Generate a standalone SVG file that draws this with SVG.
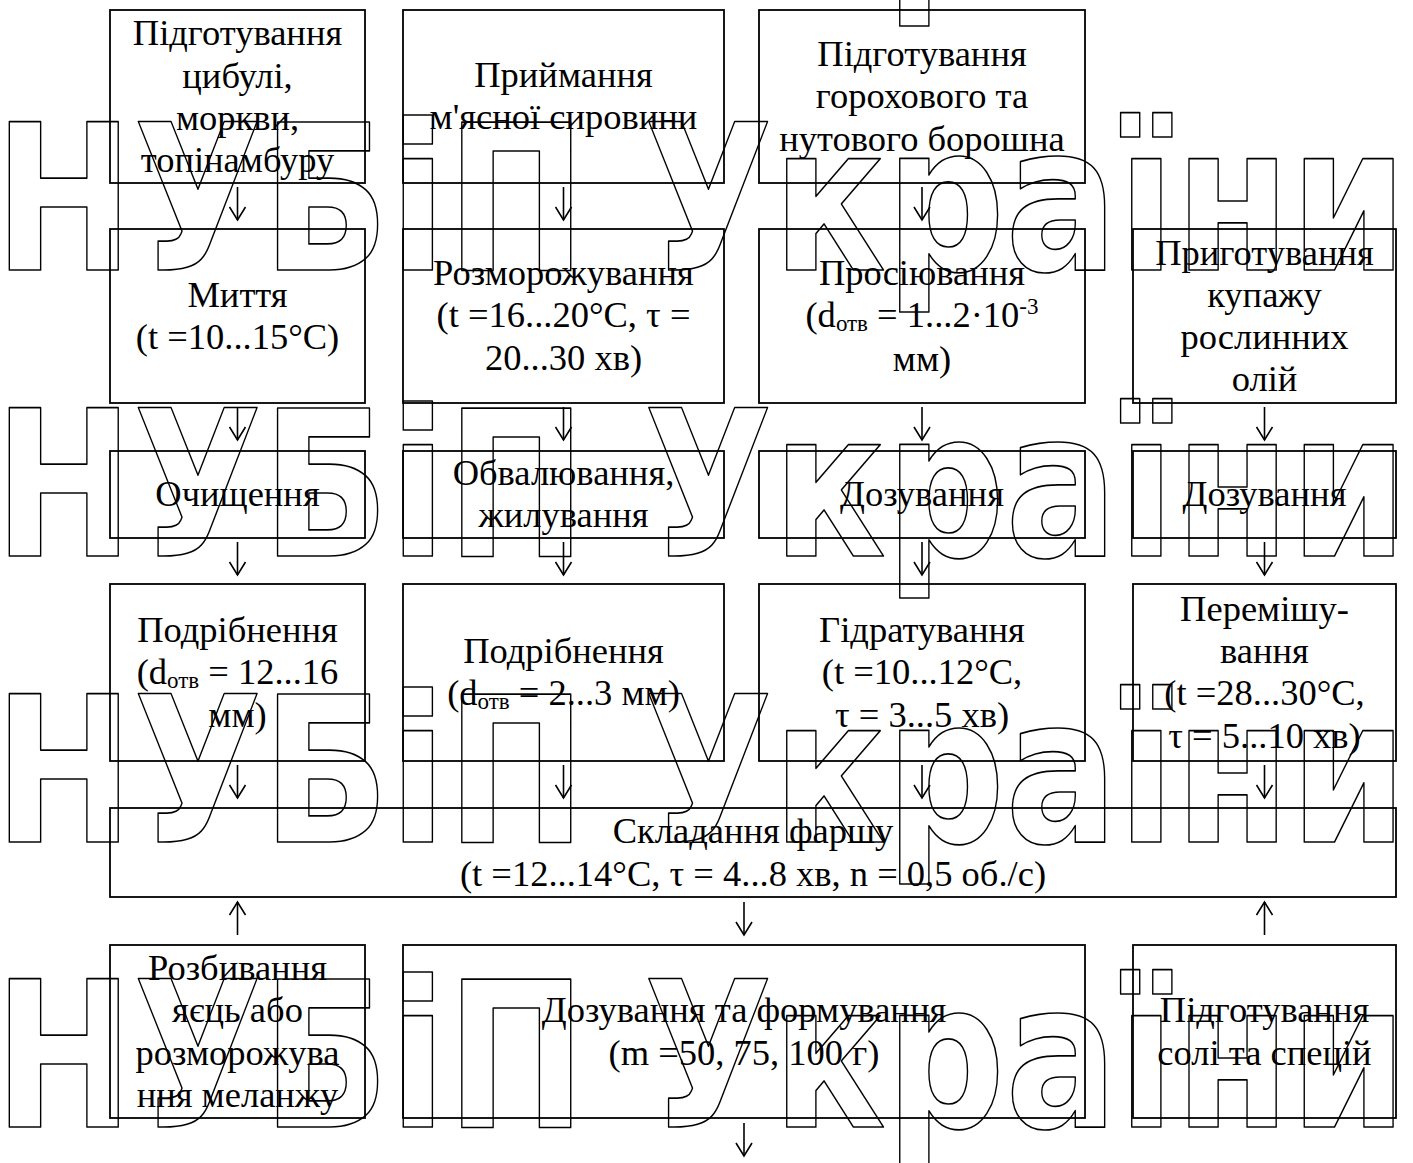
<svg xmlns="http://www.w3.org/2000/svg" width="1413" height="1163" viewBox="0 0 1413 1163">
<style>
.box{fill:none;stroke:#000;stroke-width:1.8}
.t{font-family:"Liberation Serif","Times New Roman",serif;font-size:36.5px;text-anchor:middle;fill:#000}
.s{font-size:23px}
.wm{font-family:"DejaVu Sans",sans-serif;font-weight:bold;font-size:203px;fill:none;stroke:#000;stroke-width:1.7;stroke-linejoin:round}
.arr{fill:none;stroke:#000;stroke-width:1.6}
</style>
<defs>
<marker id="ah" viewBox="-1 -9 16 18" markerWidth="16" markerHeight="18" refX="13" refY="0" markerUnits="userSpaceOnUse" orient="auto">
<path d="M0,-8 L13,0 L0,8" fill="none" stroke="#000" stroke-width="1.6"/>
</marker>
</defs>
<rect width="1413" height="1163" fill="#fff"/>
<g id="watermark">
<text class="wm" x="-6" y="-16" textLength="1413" lengthAdjust="spacingAndGlyphs">НУБіП України</text>
<text class="wm" x="-6" y="270" textLength="1413" lengthAdjust="spacingAndGlyphs">НУБіП України</text>
<text class="wm" x="-6" y="556" textLength="1413" lengthAdjust="spacingAndGlyphs">НУБіП України</text>
<text class="wm" x="-6" y="842" textLength="1413" lengthAdjust="spacingAndGlyphs">НУБіП України</text>
<text class="wm" x="-6" y="1127" textLength="1413" lengthAdjust="spacingAndGlyphs">НУБіП України</text>
</g>
<g id="connectors">
<path class="arr" marker-end="url(#ah)" d="M237.5,187 V220"/>
<path class="arr" marker-end="url(#ah)" d="M563.5,187 V220"/>
<path class="arr" marker-end="url(#ah)" d="M922,187 V220"/>
<path class="arr" marker-end="url(#ah)" d="M237.5,407 V440"/>
<path class="arr" marker-end="url(#ah)" d="M563.5,407 V440"/>
<path class="arr" marker-end="url(#ah)" d="M922,407 V440"/>
<path class="arr" marker-end="url(#ah)" d="M1264.5,407 V440"/>
<path class="arr" marker-end="url(#ah)" d="M237.5,542 V575"/>
<path class="arr" marker-end="url(#ah)" d="M563.5,542 V575"/>
<path class="arr" marker-end="url(#ah)" d="M922,542 V575"/>
<path class="arr" marker-end="url(#ah)" d="M1264.5,542 V575"/>
<path class="arr" marker-end="url(#ah)" d="M237.5,765 V798"/>
<path class="arr" marker-end="url(#ah)" d="M563.5,765 V798"/>
<path class="arr" marker-end="url(#ah)" d="M922,765 V798"/>
<path class="arr" marker-end="url(#ah)" d="M1264.5,765 V798"/>
<path class="arr" marker-end="url(#ah)" d="M237.5,935 V902"/>
<path class="arr" marker-end="url(#ah)" d="M744,902 V935"/>
<path class="arr" marker-end="url(#ah)" d="M1264.5,935 V902"/>
<path class="arr" marker-end="url(#ah)" d="M744,1123 V1156"/>
</g>
<g id="a1"><rect class="box" x="110" y="10" width="255" height="173"/>
<text class="t" x="237.5" y="45">Підготування</text><text class="t" x="237.5" y="87.5">цибулі,</text><text class="t" x="237.5" y="130">моркви,</text><text class="t" x="237.5" y="172">топінамбуру</text></g>
<g id="b1"><rect class="box" x="403" y="10" width="321" height="173"/>
<text class="t" x="563.5" y="87">Приймання</text><text class="t" x="563.5" y="129">м'ясної сировини</text></g>
<g id="c1"><rect class="box" x="759" y="10" width="326" height="173"/>
<text class="t" x="922" y="66">Підготування</text><text class="t" x="922" y="108">горохового та</text><text class="t" x="922" y="151">нутового борошна</text></g>
<g id="a2"><rect class="box" x="110" y="229" width="255" height="174"/>
<text class="t" x="237.5" y="307">Миття</text><text class="t" x="237.5" y="349">(t =10...15°C)</text></g>
<g id="b2"><rect class="box" x="403" y="229" width="321" height="174"/>
<text class="t" x="563.5" y="285">Розморожування</text><text class="t" x="563.5" y="327">(t =16...20°C, τ =</text><text class="t" x="563.5" y="370">20...30 хв)</text></g>
<g id="c2"><rect class="box" x="759" y="229" width="326" height="174"/>
<text class="t" x="922" y="285">Просіювання</text>
<text class="t" x="922" y="327">(d<tspan class="s" dy="4">отв</tspan><tspan dy="-4"> = 1...2·10</tspan><tspan class="s" dy="-13">-3</tspan></text>
<text class="t" x="922" y="371">мм)</text></g>
<g id="d2"><rect class="box" x="1133" y="229" width="263" height="174"/>
<text class="t" x="1264.5" y="265">Приготування</text><text class="t" x="1264.5" y="307">купажу</text><text class="t" x="1264.5" y="349">рослинних</text><text class="t" x="1264.5" y="391">олій</text></g>
<g id="a3"><rect class="box" x="110" y="451" width="255" height="87"/>
<text class="t" x="237.5" y="506">Очищення</text></g>
<g id="b3"><rect class="box" x="403" y="451" width="321" height="87"/>
<text class="t" x="563.5" y="485">Обвалювання,</text><text class="t" x="563.5" y="527">жилування</text></g>
<g id="c3"><rect class="box" x="759" y="451" width="326" height="87"/>
<text class="t" x="922" y="506">Дозування</text></g>
<g id="d3"><rect class="box" x="1133" y="451" width="263" height="87"/>
<text class="t" x="1264.5" y="506">Дозування</text></g>
<g id="a4"><rect class="box" x="110" y="584" width="255" height="177"/>
<text class="t" x="237.5" y="642">Подрібнення</text>
<text class="t" x="237.5" y="684">(d<tspan class="s" dy="4">отв</tspan><tspan dy="-4"> = 12...16</tspan></text>
<text class="t" x="237.5" y="727">мм)</text></g>
<g id="b4"><rect class="box" x="403" y="584" width="321" height="177"/>
<text class="t" x="563.5" y="663">Подрібнення</text>
<text class="t" x="563.5" y="705">(d<tspan class="s" dy="4">отв</tspan><tspan dy="-4"> = 2...3 мм)</tspan></text></g>
<g id="c4"><rect class="box" x="759" y="584" width="326" height="177"/>
<text class="t" x="922" y="642">Гідратування</text><text class="t" x="922" y="684">(t =10...12°C,</text><text class="t" x="922" y="727">τ = 3...5 хв)</text></g>
<g id="d4"><rect class="box" x="1133" y="584" width="263" height="177"/>
<text class="t" x="1264.5" y="621">Перемішу-</text><text class="t" x="1264.5" y="663">вання</text><text class="t" x="1264.5" y="705">(t =28...30°C,</text><text class="t" x="1264.5" y="748">τ = 5...10 хв)</text></g>
<g id="r5"><rect class="box" x="110" y="808" width="1286" height="89"/>
<text class="t" x="753" y="843">Складання фаршу</text><text class="t" x="753" y="886">(t =12...14°C, τ = 4...8 хв, n = 0,5 об./с)</text></g>
<g id="a6"><rect class="box" x="110" y="945" width="255" height="173"/>
<text class="t" x="237.5" y="980">Розбивання</text><text class="t" x="237.5" y="1022">яєць або</text><text class="t" x="237.5" y="1065">розморожува</text><text class="t" x="237.5" y="1107">ння меланжу</text></g>
<g id="b6"><rect class="box" x="403" y="945" width="682" height="173"/>
<text class="t" x="744" y="1022">Дозування та формування</text><text class="t" x="744" y="1065">(m =50, 75, 100 г)</text></g>
<g id="d6"><rect class="box" x="1133" y="945" width="263" height="173"/>
<text class="t" x="1264.5" y="1022">Підготування</text><text class="t" x="1264.5" y="1065">солі та спецій</text></g>
</svg>
